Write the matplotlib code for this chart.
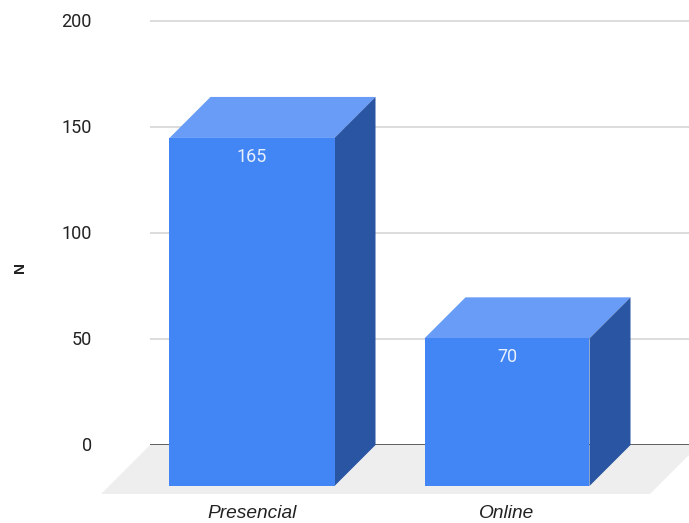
import matplotlib
matplotlib.use("Agg")
import matplotlib.pyplot as plt
from matplotlib.patches import Polygon

categories = ["Presencial", "Online"]
values = [165, 70]
y_ticks = [0, 50, 100, 150, 200]

W, H = 689, 523
PX_PER_UNIT = 2.12
PX_PER_CAT = 255
Y0 = 445
X0 = 252
BAR_W = 165 / PX_PER_CAT
DX = 41 / PX_PER_CAT
DY = 41 / PX_PER_UNIT
BAR_SCALE = 0.995

FRONT = "#4285f4"
TOP = "#689cf6"
SIDE = "#2a55a3"

fig = plt.figure(figsize=(W / 100, H / 100), dpi=100)
ax = fig.add_axes([0, 0, 1, 1])
ax.set_xlim(-X0 / PX_PER_CAT, (W - X0) / PX_PER_CAT)
ax.set_ylim((Y0 - H) / PX_PER_UNIT, Y0 / PX_PER_UNIT)
ax.axis("off")

grid_x0 = (150 - X0) / PX_PER_CAT
right = (W - X0) / PX_PER_CAT
for t in y_ticks:
    ax.plot([grid_x0, right], [t, t], color="#333333" if t == 0 else "#d2d2d2",
            lw=1.1, zorder=1, solid_capstyle="butt")
    ax.text((92 - X0) / PX_PER_CAT, t - 0.4, str(t), ha="right", va="center",
            fontsize=13, family="Roboto", color="#222222")

# floor
fy = 49 / PX_PER_UNIT
ax.add_patch(Polygon([((150 - X0) / PX_PER_CAT, 0), ((699 - X0) / PX_PER_CAT, 0),
                      ((650 - X0) / PX_PER_CAT, -fy), ((101 - X0) / PX_PER_CAT, -fy)],
                     closed=True, fc="#eeeeee", ec="none", zorder=2))

for i, (c, v) in enumerate(zip(categories, values)):
    l, r = i - BAR_W / 2, i + BAR_W / 2
    h = v * BAR_SCALE
    # value is read at the back face, front face is shifted forward by the depth
    ax.add_patch(Polygon([(l, -DY), (r, -DY), (r, h - DY), (l, h - DY)],
                         closed=True, fc=FRONT, ec="none", zorder=4))
    ax.add_patch(Polygon([(l, h - DY), (r, h - DY), (r + DX, h), (l + DX, h)],
                         closed=True, fc=TOP, ec="none", zorder=3))
    ax.add_patch(Polygon([(r, -DY), (r + DX, 0), (r + DX, h), (r, h - DY)],
                         closed=True, fc=SIDE, ec="none", zorder=3))
    ax.text(i, h - DY - 19 / PX_PER_UNIT, str(v), ha="center", va="center",
            fontsize=13, family="Roboto", color="#e8f0fe", zorder=5)
    ax.text(i, -(513.5 - Y0) / PX_PER_UNIT, c, ha="center", va="center",
            fontsize=13.8, family="Liberation Sans", style="italic", color="#222222")

ax.text((20 - X0) / PX_PER_CAT, (Y0 - 267) / PX_PER_UNIT, "N", rotation=90,
        ha="center", va="center", fontsize=11, family="Liberation Sans",
        weight="bold", color="#222222")

fig.savefig("out.png", dpi=100, facecolor="white")
